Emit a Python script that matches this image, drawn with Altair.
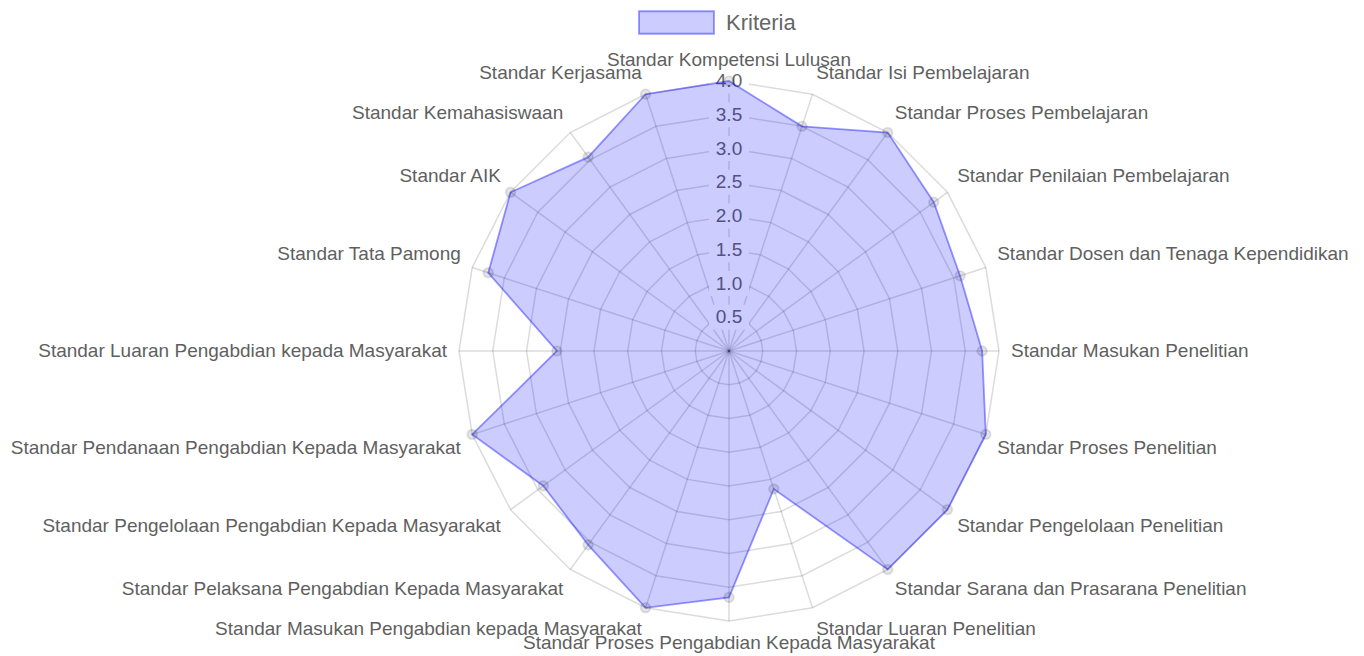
import altair as alt
import pandas as pd
import itertools

categories = [
    "Standar Kompetensi Lulusan",
    "Standar Isi Pembelajaran",
    "Standar Proses Pembelajaran",
    "Standar Penilaian Pembelajaran",
    "Standar Dosen dan Tenaga Kependidikan",
    "Standar Masukan Penelitian",
    "Standar Proses Penelitian",
    "Standar Pengelolaan Penelitian",
    "Standar Sarana dan Prasarana Penelitian",
    "Standar Luaran Penelitian",
    "Standar Proses Pengabdian Kepada Masyarakat",
    "Standar Masukan Pengabdian kepada Masyarakat",
    "Standar Pelaksana Pengabdian Kepada Masyarakat",
    "Standar Pengelolaan Pengabdian Kepada Masyarakat",
    "Standar Pendanaan Pengabdian Kepada Masyarakat",
    "Standar Luaran Pengabdian kepada Masyarakat",
    "Standar Tata Pamong",
    "Standar AIK",
    "Standar Kemahasiswaan",
    "Standar Kerjasama",
]
values = [4.0, 3.5, 4.0, 3.75, 3.6, 3.75, 4.0, 4.0, 4.0, 2.15,
          3.65, 4.0, 3.55, 3.4, 4.0, 2.55, 3.75, 4.0, 3.55, 4.0]
series_name = "Kriteria"
tick_levels = [0.5, 1.0, 1.5, 2.0, 2.5, 3.0, 3.5, 4.0]
r_max = 4.0

N = len(categories)
FONT = "Liberation Sans, Arial, sans-serif"
TXT = "#5f5f5f"

df = pd.DataFrame({"idx": list(range(N)), "cat": categories, "val": values,
                   "series": [series_name] * N})
grid = pd.DataFrame(list(itertools.product(tick_levels, range(N))), columns=["level", "idx"])
spokes = pd.DataFrame({"idx": list(range(N))})
ticks = pd.DataFrame({"level": tick_levels})

W, H = 1348, 648
CX, CY, K = 721, 343, 67.5
ANG = f"datum.idx * 2 * PI / {N}"
xdom = [-CX / K, (W - CX) / K]
ydom = [-(H - CY) / K, CY / K]
xs = alt.Scale(domain=xdom, nice=False, zero=False)
ys = alt.Scale(domain=ydom, nice=False, zero=False)


def X(f="x"):
    return alt.X(f"{f}:Q", scale=xs, axis=None)


def Y(f="y"):
    return alt.Y(f"{f}:Q", scale=ys, axis=None)


GRID = "rgba(0,0,0,0.14)"

rings = alt.Chart(grid).transform_calculate(
    a=ANG
).transform_calculate(
    x="datum.level * sin(datum.a)", y="datum.level * cos(datum.a)"
).mark_line(interpolate="linear-closed", stroke=GRID, strokeWidth=1.5).encode(
    x=X(), y=Y(), detail="level:N", order="idx:Q"
)

spoke = alt.Chart(spokes).transform_calculate(
    a=ANG
).transform_calculate(
    x0="0", y0="0", x="%f * sin(datum.a)" % r_max, y="%f * cos(datum.a)" % r_max
).mark_rule(stroke=GRID, strokeWidth=1.5).encode(
    x=X("x0"), y=Y("y0"), x2="x:Q", y2="y:Q"
)

backdrop = alt.Chart(ticks).transform_calculate(x0="0").mark_point(
    shape="M-1,-0.62H1V0.62H-1Z", filled=True, fill="white", opacity=1, size=1600, strokeWidth=0
).encode(x=X("x0"), y=Y("level"))

tick_text = alt.Chart(ticks).transform_calculate(x0="0").mark_text(
    font=FONT, fontSize=19, color="#666666", align="center", baseline="middle"
).encode(x=X("x0"), y=Y("level"), text=alt.Text("level:Q", format=".1f"))

poly = alt.Chart(df).transform_calculate(
    a=ANG
).transform_calculate(
    x="datum.val * sin(datum.a)", y="datum.val * cos(datum.a)"
).mark_line(interpolate="linear-closed", stroke="rgba(0,0,255,0.4)", strokeWidth=1.8).encode(
    x=X(), y=Y(), order="idx:Q",
    fill=alt.Fill("series:N", scale=alt.Scale(range=["rgba(0,0,255,0.2)"]),
                  legend=alt.Legend(title=None, orient="none", legendX=630, legendY=-24,
                                    symbolType="M-1,-0.3H1V0.3H-1Z", symbolSize=5625,
                                    symbolStrokeColor="rgba(0,0,255,0.4)", symbolStrokeWidth=1.8,
                                    labelFont=FONT, labelFontSize=22, labelColor="#666666",
                                    labelOffset=11, padding=0)),
)

pts = alt.Chart(df).transform_calculate(
    a=ANG
).transform_calculate(
    x="datum.val * sin(datum.a)", y="datum.val * cos(datum.a)"
).mark_point(filled=True, fill="rgba(0,0,0,0.1)", stroke="rgba(0,0,0,0.1)",
             strokeWidth=1.8, size=95, opacity=1).encode(x=X(), y=Y())

D = (r_max * K + 12) / K
OFF = 9.5 / K


def label_layer(cond, align):
    return alt.Chart(df).transform_calculate(
        a=ANG
    ).transform_calculate(
        s="sin(datum.a)", c="cos(datum.a)"
    ).transform_filter(cond).transform_calculate(
        x=f"{D} * datum.s",
        y=f"{D} * datum.c + (datum.c > 0.01 ? {OFF} : (datum.c < -0.01 ? -{OFF} : 0))",
    ).mark_text(font=FONT, fontSize=19, color=TXT, align=align, baseline="middle").encode(
        x=X(), y=Y(), text="cat:N"
    )


lab_l = label_layer("datum.s > 0.01", "left")
lab_r = label_layer("datum.s < -0.01", "right")
lab_c = label_layer("abs(datum.s) <= 0.01", "center")

chart = alt.layer(rings, spoke, backdrop, tick_text, poly, pts, lab_l, lab_r, lab_c).properties(
    width=W, height=H, autosize="none", padding=0
).configure_view(strokeWidth=0)

chart.save("out.html", embed_options={"renderer": "svg", "actions": False})
